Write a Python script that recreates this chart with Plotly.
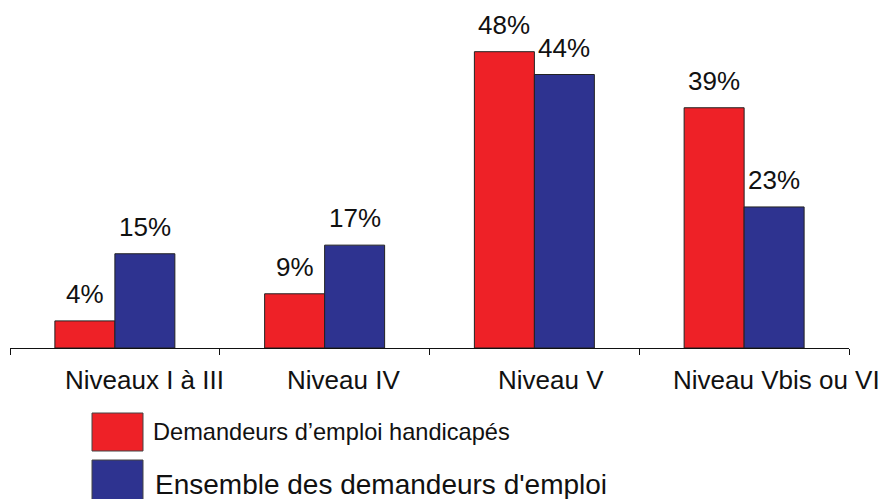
import plotly.graph_objects as go

categories = ["Niveaux I à III", "Niveau IV", "Niveau V", "Niveau Vbis ou VI"]
series_names = ["Demandeurs d’emploi handicapés", "Ensemble des demandeurs d'emploi"]
handicapes = [4.4, 8.8, 48.1, 39.0]
ensemble = [15.3, 16.7, 44.4, 22.9]

RED = "#EE2127"
BLUE = "#2E3390"
FONT = "Arial, Liberation Sans, sans-serif"
LABEL_SHIFTS = [30, 19, 17, 32]

W, H = 885, 499
L, R, T, B = 10, 36, 40, 151
PW, PH = W - L - R, H - T - B

def px(x):
    return (x - L) / PW

def py(y):
    return (H - B - y) / PH

fig = go.Figure()
fig.add_trace(go.Bar(x=categories, y=handicapes, name=series_names[0],
                     marker=dict(color=RED, line=dict(color="#222222", width=1)),
                     showlegend=False))
fig.add_trace(go.Bar(x=categories, y=ensemble, name=series_names[1],
                     marker=dict(color=BLUE, line=dict(color="#222222", width=1)),
                     showlegend=False))

annotations = []
for vals, shift in ((handicapes, -30), (ensemble, 30)):
    for c, v in zip(categories, vals):
        annotations.append(dict(x=c, y=v, xref="x", yref="y", text=f"{v:.0f}%",
                                showarrow=False, xshift=shift, yshift=10,
                                yanchor="bottom", font=dict(size=26, color="#111111", family=FONT)))

# category labels
for c, s in zip(categories, LABEL_SHIFTS):
    annotations.append(dict(x=c, y=py(380), xref="x", yref="paper", text=c,
                            showarrow=False, xshift=s, yanchor="middle",
                            font=dict(size=26, color="#111111", family=FONT)))

# manual legend
shapes = [
    dict(type="rect", xref="paper", yref="paper", x0=px(92), x1=px(143), y0=py(451), y1=py(413),
         fillcolor=RED, line=dict(color="#444444", width=1)),
    dict(type="rect", xref="paper", yref="paper", x0=px(92), x1=px(143), y0=py(502), y1=py(460),
         fillcolor=BLUE, line=dict(color="#444444", width=1)),
]
annotations.append(dict(x=px(151), y=py(432), xref="paper", yref="paper", text=series_names[0],
                        showarrow=False, xanchor="left", yanchor="middle",
                        font=dict(size=23.6, color="#111111", family=FONT)))
annotations.append(dict(x=px(153), y=py(484), xref="paper", yref="paper", text=series_names[1],
                        showarrow=False, xanchor="left", yanchor="middle",
                        font=dict(size=28, color="#111111", family=FONT)))

fig.update_layout(
    width=W, height=H,
    margin=dict(l=L, r=R, t=T, b=B),
    paper_bgcolor="white", plot_bgcolor="white",
    barmode="group", bargap=0.428, bargroupgap=0,
    showlegend=False,
    annotations=annotations, shapes=shapes,
    font=dict(family=FONT, color="#111111"),
    xaxis=dict(showline=True, linecolor="#111111", linewidth=1, ticks="outside",
               tickson="boundaries", ticklen=6, tickcolor="#111111", showgrid=False,
               showticklabels=False, automargin=False, range=[-0.5, 3.5]),
    yaxis=dict(visible=False, range=[0, 50], showgrid=False, zeroline=False, automargin=False),
)

fig.write_html("out.html", config={"displayModeBar": False},
               post_script="document.body.style.margin='0';document.body.style.overflow='hidden';")
